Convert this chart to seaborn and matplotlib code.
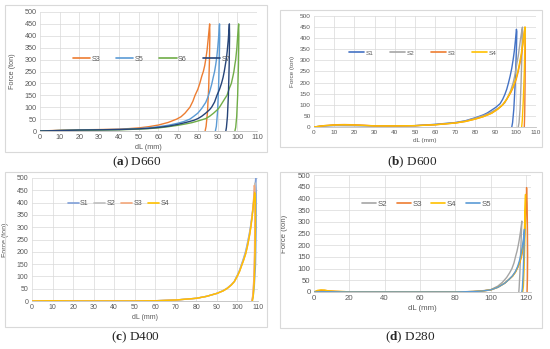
import numpy as np
import seaborn as sns
import matplotlib.pyplot as plt
from matplotlib.patches import Rectangle

sns.set_style('white')
plt.rcParams['font.family'] = ['Liberation Sans', 'DejaVu Sans']
plt.rcParams['mathtext.fontset'] = 'custom'
plt.rcParams['mathtext.rm'] = 'Liberation Serif'
plt.rcParams['mathtext.bf'] = 'Liberation Serif:bold'

# ---- (a) D660 ----
a_s3_x = [0, 10, 20, 30, 40, 45, 50, 55, 60, 65, 69.3, 71.5, 73.5, 76, 77.5, 78.6, 80, 81, 82, 82.8, 83.5, 84, 84.7, 85.3, 86, 86.1, 85.9, 85.5, 84.9, 84.2, 83.7]
a_s3_y = [0, 3, 5, 6, 8, 10, 13, 18, 25, 36, 50, 60, 75, 100, 125, 150, 175, 200, 230, 250, 275, 300, 340, 390, 450, 400, 300, 180, 80, 20, 0]
a_s5_x = [0, 10, 20, 30, 40, 45, 50, 55, 60, 65, 70, 73, 76, 78, 80, 82, 84, 85, 86, 87, 87.8, 88.5, 89.1, 89.6, 90.1, 90.5, 91, 91.1, 90.9, 90.5, 90, 89.4, 88.9]
a_s5_y = [0, 2, 4, 5, 7, 8, 10, 13, 18, 24, 33, 40, 50, 62, 75, 95, 120, 140, 165, 195, 225, 250, 280, 310, 350, 390, 450, 400, 300, 180, 80, 20, 0]
a_s6_x = [0, 10, 20, 30, 40, 50, 55, 60, 65, 70, 74, 77, 80, 84, 86, 88, 90, 91, 92.5, 94, 94.8, 96, 97, 97.8, 98.3, 98.8, 99.2, 99.8, 100.2, 100.7, 100.8, 100.6, 100.2, 99.7, 99.2, 98.8]
a_s6_y = [0, 2, 3, 4, 5, 8, 10, 13, 18, 24, 30, 35, 42, 52, 62, 75, 90, 100, 120, 140, 150, 180, 200, 230, 250, 280, 300, 350, 400, 450, 400, 280, 150, 60, 15, 0]
a_s7_x = [0, 10, 20, 30, 40, 50, 55, 60, 65, 70, 74, 78, 80, 82, 84, 86, 87, 88.5, 89.7, 91, 92, 92.8, 93.4, 93.9, 94.4, 94.9, 95.4, 96, 96.1, 95.9, 95.5, 95, 94.5, 94.2]
a_s7_y = [0, 2, 4, 5, 6, 9, 11, 15, 20, 28, 36, 45, 52, 62, 75, 90, 100, 122, 150, 175, 200, 225, 250, 275, 300, 335, 380, 450, 400, 280, 150, 60, 15, 0]

# ---- (b) D600 ----
b_s1_x = [0, 5, 10, 20, 30, 40, 50, 60, 70, 75, 80, 84, 86, 88, 90, 92.2, 93.5, 94.5, 95.5, 96.4, 97.2, 98, 98.7, 99.3, 99.8, 100.3, 100.5, 100.3, 100.1, 99.6, 99, 98.4, 98]
b_s1_y = [0, 5, 7, 7, 5, 5, 6, 12, 20, 28, 42, 55, 64, 76, 88, 105, 125, 145, 170, 200, 230, 265, 305, 345, 390, 440, 430, 350, 300, 180, 80, 20, 0]
b_s2_x = [0, 5, 10, 20, 30, 40, 50, 60, 70, 75, 80, 84, 87, 90, 92.5, 94.6, 96, 97.5, 98.7, 99.7, 100.4, 101.2, 101.8, 102.4, 102.9, 103.3, 103.2, 103, 102.6, 102.1, 101.6, 101.2]
b_s2_y = [0, 5, 7, 6, 5, 5, 6, 11, 19, 27, 40, 52, 63, 78, 92, 110, 135, 165, 200, 240, 280, 320, 360, 400, 430, 450, 420, 320, 200, 80, 20, 0]
b_s3_x = [0, 5, 10, 15, 20, 25, 30, 40, 50, 60, 70, 75, 80, 84, 88, 91, 93.5, 95.5, 97.5, 99, 100.2, 101.2, 102.1, 102.9, 103.6, 104.1, 104.5, 104.7, 104.6, 104.4, 104.2]
b_s3_y = [0, 6, 10, 11, 10, 8, 5, 5, 6, 10, 18, 25, 36, 47, 62, 80, 100, 125, 155, 185, 215, 250, 290, 330, 380, 420, 450, 350, 200, 60, 0]
b_s4_x = [0, 5, 10, 15, 20, 25, 30, 40, 50, 60, 70, 75, 80, 84, 88, 91, 93.5, 95.5, 97.3, 98.8, 100, 101, 101.9, 102.7, 103.4, 104, 104.6, 104.5, 104.2, 103.7, 103.2, 102.9]
b_s4_y = [0, 6, 9, 10, 9, 7, 5, 5, 6, 10, 18, 25, 36, 47, 62, 80, 100, 125, 155, 185, 215, 250, 290, 330, 375, 415, 450, 380, 250, 120, 30, 0]

# ---- (c) D400 ----
c_s1_x = [0, 10, 20, 30, 40, 50, 60, 70, 80, 85, 90, 93, 95, 97, 98.5, 100, 101, 102, 103, 103.9, 104.6, 105.2, 105.8, 106.3, 106.8, 107.3, 107.9, 108.5, 108.9, 109.1, 109.1, 108.8, 108.2, 107.6, 107.1]
c_s1_y = [0, 1, 0, 0, 0, 0, 1, 4, 11, 19, 31, 42, 52, 66, 80, 106, 125, 150, 175, 200, 225, 250, 275, 300, 330, 360, 400, 460, 500, 450, 300, 150, 60, 15, 0]
c_s2_x = [0, 10, 20, 30, 40, 50, 60, 70, 80, 85, 90, 93, 95, 97, 98.5, 100, 101, 102, 103, 104, 104.7, 105.3, 105.9, 106.4, 106.9, 107.3, 107.9, 108.3, 108.6, 108.7, 108.5, 108.1, 107.5, 107]
c_s2_y = [0, 1, 0, 0, 0, 0, 1, 4, 11, 19, 31, 42, 52, 66, 80, 104, 122, 146, 170, 196, 222, 248, 274, 300, 330, 360, 410, 460, 480, 380, 220, 90, 20, 0]
c_s3_x = [0, 10, 20, 30, 40, 50, 60, 70, 80, 85, 90, 93, 95, 97, 98.5, 100, 101, 102, 103, 104, 104.8, 105.4, 106, 106.5, 107, 107.4, 107.9, 108.2, 108.4, 108.5, 108.3, 107.9, 107.4, 107]
c_s3_y = [0, 1, 0, 0, 0, 0, 1, 4, 11, 19, 31, 41, 51, 65, 79, 102, 120, 143, 166, 192, 220, 245, 272, 300, 335, 370, 420, 470, 460, 350, 200, 80, 20, 0]
c_s4_x = [0, 10, 20, 30, 40, 50, 60, 70, 80, 85, 90, 93, 95, 97, 98.5, 100, 101, 102, 103, 104, 104.8, 105.4, 106, 106.5, 107, 107.4, 108, 108.4, 108.7, 108.8, 108.6, 108.2, 107.7, 107.3]
c_s4_y = [0, 1, 0, 0, 0, 0, 1, 4, 11, 19, 31, 41, 51, 65, 79, 102, 120, 143, 166, 192, 220, 245, 272, 300, 330, 360, 410, 440, 420, 330, 200, 80, 20, 0]

# ---- (d) D280 ----
d_s2_x = [0, 5, 10, 20, 40, 60, 80, 90, 95, 100, 104, 106.7, 109, 110.7, 112, 113.2, 114, 114.9, 115.6, 116.2, 116.7, 117.2, 117.6, 117.4, 117, 116.5, 116.1, 115.9]
d_s2_y = [0, 1, 1, 0, 0, 0, 0, 2, 5, 10, 25, 42, 62, 82, 100, 125, 150, 175, 200, 225, 250, 275, 303, 260, 180, 80, 20, 0]
d_s3_x = [0, 2, 4, 6, 8, 12, 17, 20, 40, 60, 80, 90, 95, 100, 104, 108, 110.5, 112.4, 114, 115.3, 116.4, 117.4, 118.2, 118.8, 119.3, 119.7, 120.1, 120.3, 120.6, 120.8, 120.9, 120.8, 120.6]
d_s3_y = [0, 5, 7, 7, 5, 3, 1, 0, 0, 0, 0, 2, 4, 9, 20, 38, 55, 68, 85, 105, 125, 150, 180, 210, 250, 300, 380, 446, 380, 260, 150, 60, 0]
d_s4_x = [0, 2, 4, 6, 8, 12, 17, 20, 40, 60, 80, 90, 95, 100, 104, 108, 110.5, 112.4, 114, 115.3, 116.4, 117.3, 118, 118.6, 119.1, 119.4, 119.7, 119.6, 119.3, 118.9, 118.5, 118.1]
d_s4_y = [0, 7, 9, 8, 5, 3, 2, 0, 0, 0, 0, 2, 4, 9, 20, 38, 55, 68, 85, 105, 128, 155, 185, 220, 270, 330, 417, 350, 220, 100, 25, 0]
d_s5_x = [0, 5, 10, 20, 40, 60, 80, 90, 95, 100, 104, 108, 110.5, 112.4, 114, 115.3, 116.3, 117.1, 117.8, 118.5, 119.1, 119, 118.7, 118.3, 117.9, 117.6]
d_s5_y = [0, 1, 1, 0, 0, 0, 0, 2, 4, 9, 20, 38, 55, 70, 88, 110, 135, 162, 190, 225, 268, 230, 150, 70, 15, 0]

blue = '#5B9BD5'
orange = '#ED7D31'
green = '#70AD47'
navy = '#264478'
gray = '#A5A5A5'
yellow = '#FFC000'
royal = '#4472C4'

panels = [
    dict(name='a', title='D660', series=[('S3', a_s3_x, a_s3_y, orange), ('S5', a_s5_x, a_s5_y, blue),
                                          ('S6', a_s6_x, a_s6_y, green), ('S7', a_s7_x, a_s7_y, navy)],
         rect=[40, 12, 257, 131], box=[5, 5, 267, 152], cap=(137, 162), xmax=110, xstep=10,
         leg=(0.12, 0.605), fs=5.2, ylab=-0.11, colsp=2.2, hl=2.4),
    dict(name='b', title='D600', series=[('S1', b_s1_x, b_s1_y, royal), ('S2', b_s2_x, b_s2_y, gray),
                                          ('S3', b_s3_x, b_s3_y, orange), ('S4', b_s4_x, b_s4_y, yellow)],
         rect=[314, 16, 536, 127], box=[280, 10, 542, 147], cap=(412, 162), xmax=110, xstep=10,
         leg=(0.13, 0.667), fs=4.6, ylab=-0.085, colsp=2.6, hl=2.4),
    dict(name='c', title='D400', series=[('S1', c_s1_x, c_s1_y, '#7F9FD8'), ('S2', c_s2_x, c_s2_y, '#BFBFBF'),
                                          ('S3', c_s3_x, c_s3_y, '#F4A77A'), ('S4', c_s4_x, c_s4_y, yellow)],
         rect=[32, 178, 258, 301], box=[5, 172, 267, 327], cap=(135, 337), xmax=110, xstep=10,
         leg=(0.13, 0.79), fs=5.0, ylab=-0.1, colsp=0.8, hl=1.6),
    dict(name='d', title='D280', series=[('S2', d_s2_x, d_s2_y, gray), ('S3', d_s3_x, d_s3_y, orange),
                                          ('S4', d_s4_x, d_s4_y, yellow), ('S5', d_s5_x, d_s5_y, blue)],
         rect=[314, 175, 531, 292], box=[280, 172, 542, 328], cap=(410, 337), xmax=122.8, xstep=20,
         leg=(0.19, 0.75), fs=5.6, ylab=-0.12, colsp=1.2, hl=1.8),
]

W, H = 550, 349
fig = plt.figure(figsize=(5.5, 3.49), dpi=100)

for p in panels:
    x0, y0, x1, y1 = p['box']
    fig.patches.append(Rectangle((x0 / W, 1 - y1 / H), (x1 - x0) / W, (y1 - y0) / H,
                                 transform=fig.transFigure, fill=False, edgecolor='#D9D9D9', linewidth=0.8))
    l, t, r, b = p['rect']
    ax = fig.add_axes([l / W, 1 - b / H, (r - l) / W, (b - t) / H])
    # one curve at a time so the point order (loading then unloading) is kept
    for lab, xs, ys, c in p['series']:
        sns.lineplot(x=np.array(xs, dtype=float), y=np.array(ys, dtype=float), sort=False,
                     estimator=None, color=c, linewidth=1.0, label=lab, ax=ax)
    ax.set_xlim(0, p['xmax'])
    ax.set_ylim(0, 500)
    ax.set_xticks(np.arange(0, p['xmax'] + 0.1, p['xstep']))
    ax.set_yticks(np.arange(0, 501, 50))
    ax.grid(True, color='#D9D9D9', linewidth=0.5)
    for s in ['top', 'right', 'left']:
        ax.spines[s].set_visible(False)
    ax.spines['bottom'].set_color('#BFBFBF')
    ax.spines['bottom'].set_linewidth(0.6)
    ax.tick_params(length=0, pad=2.5, labelsize=p['fs'], colors='#595959')
    ax.set_xlabel('dL (mm)', fontsize=p['fs'], color='#595959', labelpad=1.5)
    ax.set_ylabel('Force (ton)', fontsize=p['fs'], color='#595959')
    ax.yaxis.set_label_coords(p['ylab'], 0.5)
    handles, labels = ax.get_legend_handles_labels()
    leg = ax.legend(handles, labels, loc='center left', bbox_to_anchor=p['leg'], ncol=4, frameon=False,
                    fontsize=p['fs'], handlelength=p['hl'], handletextpad=0.2,
                    columnspacing=p['colsp'], labelcolor='#595959')
    for h in leg.get_lines():
        h.set_linewidth(1.2)
    cx, cy = p['cap']
    fig.text(cx / W, 1 - cy / H, r'($\mathbf{%s}$) $\mathrm{%s}$' % (p['name'], p['title']),
             ha='center', va='center', fontsize=9.5, family='Liberation Serif')

fig.savefig('out.png', dpi=100)
